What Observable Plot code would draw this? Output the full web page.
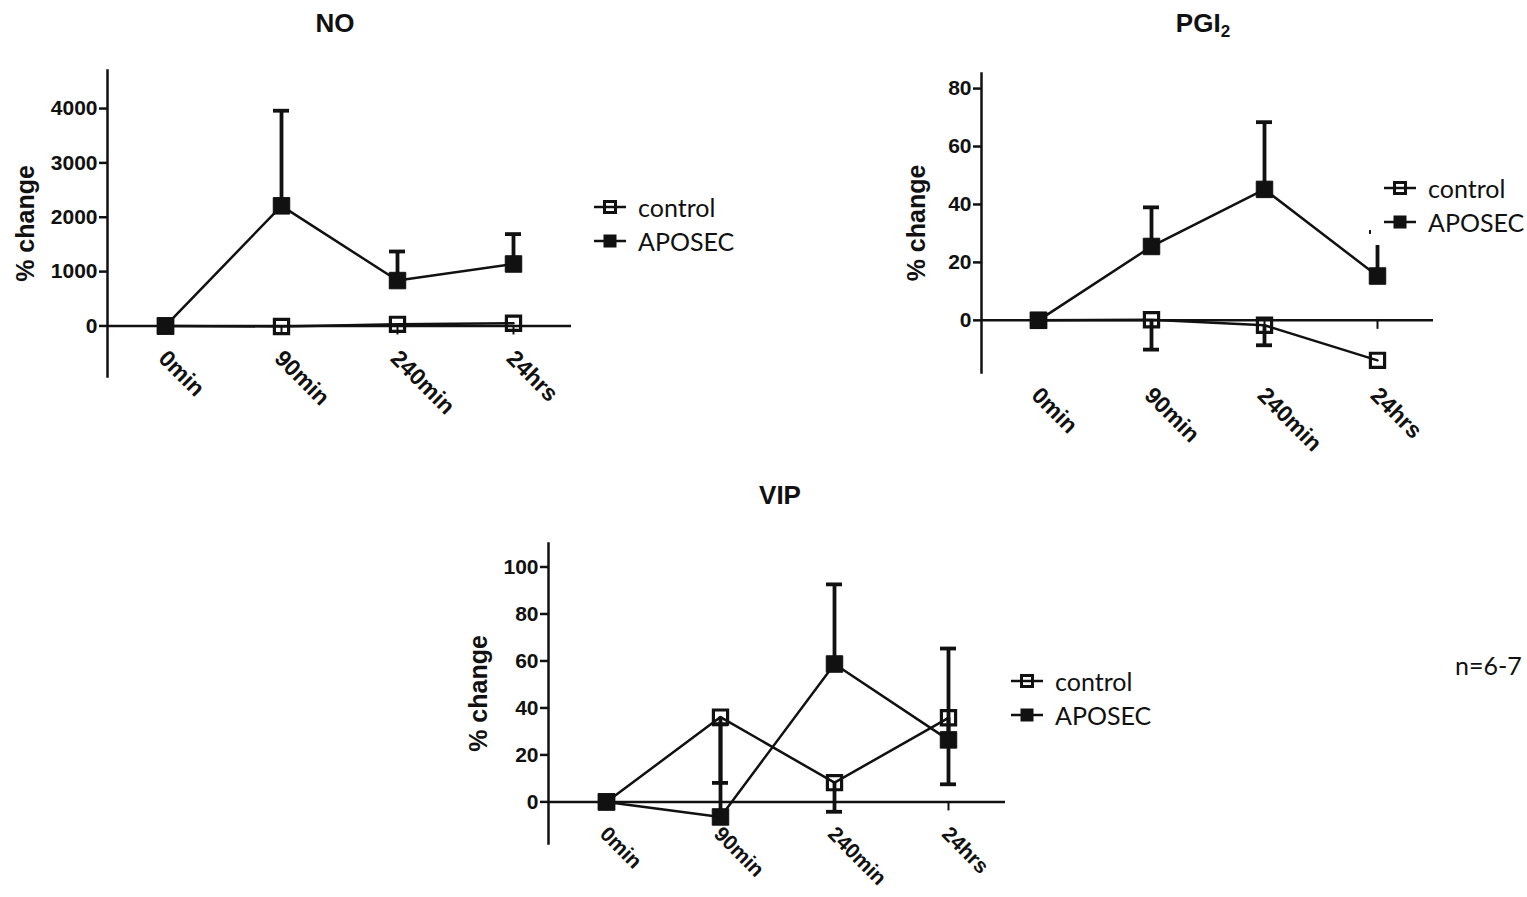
<!DOCTYPE html>
<html>
<head>
<meta charset="utf-8">
<script src="https://cdn.jsdelivr.net/npm/d3@7"></script>
<script src="https://cdn.jsdelivr.net/npm/@observablehq/plot@0.6"></script>
<style>
  html, body { margin: 0; padding: 0; background: #fff; }
  #root { position: relative; width: 1527px; height: 897px; overflow: hidden; background: #fff;
          font-family: "Liberation Sans", Arial, sans-serif; color: #111; }
  .panel { position: absolute; }
  .title { position: absolute; font-weight: bold; font-size: 26px; line-height: 1; transform: translate(-50%, -50%); white-space: nowrap; }
  .title sub { font-size: 17px; vertical-align: -5px; line-height: 0; }
  .legend { position: absolute; font-family: Lato, "Open Sans", sans-serif; font-size: 25px; background: #fff; z-index: 5; }
  .row { display: flex; align-items: center; height: 34px; white-space: nowrap; }
  .row svg { margin-right: 12px; flex: none; }
  .note { position: absolute; font-family: Lato, "Open Sans", sans-serif; font-size: 25px; line-height: 1; transform: translateY(-50%); }
</style>
</head>
<body>
<div id="root"></div>
<script>
// ---------- data ----------
const times = ["0min", "90min", "240min", "24hrs"];
const seriesNames = ["control", "APOSEC"];
const yLabel = "% change";

// NO
const noControl   = [0, -10, 30, 50];
const noControlLo = [null, null, null, null];
const noAposec    = [0, 2210, 835, 1140];
const noAposecHi  = [null, 3960, 1370, 1690];
const noTicks     = [0, 1000, 2000, 3000, 4000];
const noDomain    = [-930, 4700];

// PGI2
const pgiControl   = [0, 0.2, -1.7, -13.8];
const pgiControlLo = [null, -10.1, -8.6, null];
const pgiAposec    = [0, 25.5, 45.2, 15.3];
const pgiAposecHi  = [null, 39.0, 68.4, 30.5];
const pgiTicks     = [0, 20, 40, 60, 80];
const pgiDomain    = [-18, 85.2];

// VIP
const vipControl   = [0, 36.1, 8.2, 35.8];
const vipControlLo = [null, 8.1, -4.2, 7.5];
const vipAposec    = [0, -6.4, 58.7, 26.4];
const vipAposecHi  = [null, 33, 92.6, 65.3];
const vipTicks     = [0, 20, 40, 60, 80, 100];
const vipDomain    = [-17.7, 110];

const noteText = "n=6-7";

// ---------- helpers ----------
const ink = "#111";
const root = document.getElementById("root");

function buildRows(ctrl, ctrlLo, apo, apoHi) {
  const rows = [];
  times.forEach((t, i) => {
    rows.push({time: t, group: seriesNames[0], value: ctrl[i], err: ctrlLo[i]});
    rows.push({time: t, group: seriesNames[1], value: apo[i], err: apoHi[i]});
  });
  return rows;
}

function panel(cfg) {
  const rows = buildRows(cfg.ctrl, cfg.ctrlLo, cfg.apo, cfg.apoHi);
  const errRows = rows.filter(d => d.err != null);
  const ctrlRows = rows.filter(d => d.group === seriesNames[0]);
  const apoRows = rows.filter(d => d.group === seriesNames[1]);
  const chart = Plot.plot({
    width: cfg.width, height: cfg.height,
    marginTop: cfg.mt, marginRight: cfg.mr, marginBottom: cfg.mb, marginLeft: cfg.ml,
    style: {background: "transparent", color: ink, fontFamily: "'Liberation Sans', Arial, sans-serif", overflow: "visible"},
    x: {type: "point", domain: times, padding: 0.5},
    y: {domain: cfg.domain},
    marks: [
      Plot.frame({anchor: "left", stroke: ink, strokeWidth: 2.5}),
      Plot.ruleY([0], {stroke: ink, strokeWidth: 2.5}),
      Plot.ruleX(times, {x: d => d, y1: 0, y2: 0, insetBottom: -9, stroke: ink, strokeWidth: 2}),
      Plot.axisY({ticks: cfg.ticks, tickFormat: "d", tickSize: 8, tickPadding: 2, fontSize: 21, fontWeight: "bold", label: null, strokeWidth: 2.5}),
      Plot.axisX({anchor: "bottom", tickSize: 0, tickPadding: 0, tickRotate: 45, textAnchor: "start", lineAnchor: "middle",
                  fontSize: cfg.xfs, fontWeight: "bold", dx: -3, dy: cfg.xdy, label: null}),
      Plot.text([yLabel], {text: d => d, frameAnchor: "left", textAnchor: "middle", lineAnchor: "middle", rotate: -90, dx: cfg.ydx,
                           fontSize: 25, fontWeight: "bold", fill: ink}),
      Plot.line(rows, {x: "time", y: "value", z: "group", stroke: ink, strokeWidth: 2.5}),
      Plot.ruleX(errRows, {x: "time", y1: "value", y2: "err", stroke: ink, strokeWidth: 3.8}),
      Plot.ruleY(errRows, {x1: "time", x2: "time", y: "err", insetLeft: -8, insetRight: -8, stroke: ink, strokeWidth: 3.8}),
      Plot.dot(ctrlRows, {x: "time", y: "value", symbol: "square", r: 8, fill: "none", stroke: ink, strokeWidth: 3.2}),
      Plot.dot(apoRows, {x: "time", y: "value", symbol: "square", r: 9.3, fill: ink, stroke: ink, strokeWidth: 1})
    ]
  });
  chart.classList.add("panel");
  chart.style.left = cfg.left + "px";
  chart.style.top = cfg.top + "px";
  root.appendChild(chart);
}

function title(html, cx, cy) {
  const d = document.createElement("div");
  d.className = "title";
  d.innerHTML = html;
  d.style.left = cx + "px";
  d.style.top = cy + "px";
  root.appendChild(d);
}

function swatch(filled) {
  const ns = "http://www.w3.org/2000/svg";
  const s = document.createElementNS(ns, "svg");
  s.setAttribute("width", 32); s.setAttribute("height", 20);
  const l = document.createElementNS(ns, "line");
  l.setAttribute("x1", 0); l.setAttribute("x2", 32); l.setAttribute("y1", 10); l.setAttribute("y2", 10);
  l.setAttribute("stroke", ink); l.setAttribute("stroke-width", 2.5);
  s.appendChild(l);
  const r = document.createElementNS(ns, "rect");
  if (filled) {
    r.setAttribute("x", 9.5); r.setAttribute("y", 3.5); r.setAttribute("width", 13); r.setAttribute("height", 13);
    r.setAttribute("fill", ink);
  } else {
    r.setAttribute("x", 10.5); r.setAttribute("y", 4.5); r.setAttribute("width", 11); r.setAttribute("height", 11);
    r.setAttribute("fill", "none"); r.setAttribute("stroke", ink); r.setAttribute("stroke-width", 3);
  }
  s.appendChild(r);
  return s;
}

function legend(left, top, padTop, padBottom, padLeft) {
  const d = document.createElement("div");
  d.className = "legend";
  d.style.left = left + "px";
  d.style.top = top + "px";
  d.style.padding = `${padTop}px 6px ${padBottom}px ${padLeft}px`;
  seriesNames.forEach((name, i) => {
    const row = document.createElement("div");
    row.className = "row";
    row.appendChild(swatch(i === 1));
    const t = document.createElement("span");
    t.textContent = name;
    row.appendChild(t);
    d.appendChild(row);
  });
  root.appendChild(d);
}

// ---------- panels ----------
panel({left: 0, top: 0, width: 600, height: 440, mt: 70, mr: 29, mb: 64, ml: 107,
       domain: noDomain, ticks: noTicks, ctrl: noControl, ctrlLo: noControlLo, apo: noAposec, apoHi: noAposecHi,
       ydx: -82, xdy: -22, xfs: 23});
panel({left: 860, top: 0, width: 600, height: 460, mt: 73, mr: 27, mb: 88, ml: 121,
       domain: pgiDomain, ticks: pgiTicks, ctrl: pgiControl, ctrlLo: pgiControlLo, apo: pgiAposec, apoHi: pgiAposecHi,
       ydx: -65, xdy: 19, xfs: 23});
panel({left: 430, top: 453, width: 600, height: 444, mt: 90, mr: 25, mb: 54, ml: 118,
       domain: vipDomain, ticks: vipTicks, ctrl: vipControl, ctrlLo: vipControlLo, apo: vipAposec, apoHi: vipAposecHi,
       ydx: -70, xdy: -13, xfs: 21});

title("NO", 335, 23);
title("PGI<sub>2</sub>", 1203, 23);
title("VIP", 780, 495);

legend(594, 190, 0, 0, 0);
legend(1371, 167, 4, 6, 13);
legend(1011, 681 - 17, 0, 0, 0);

const n = document.createElement("div");
n.className = "note";
n.textContent = noteText;
n.style.left = "1455px";
n.style.top = "665px";
root.appendChild(n);
</script>
</body>
</html>
